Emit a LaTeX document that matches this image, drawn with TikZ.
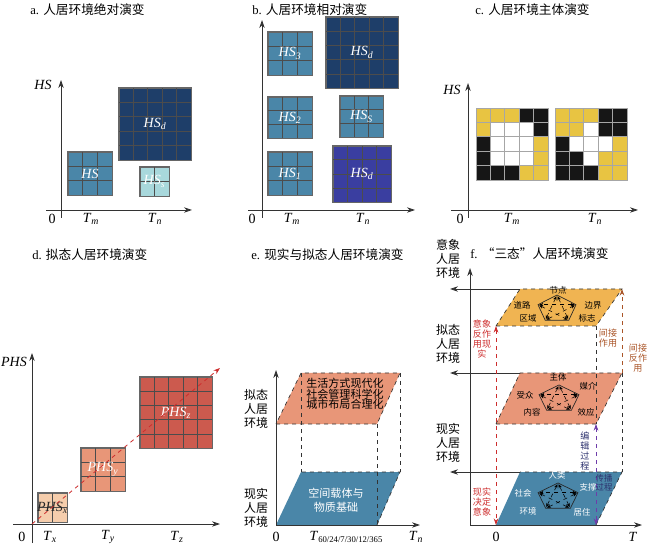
\documentclass[tikz,border=0pt]{standalone}
\usepackage{fontspec}
\setmainfont{Liberation Serif}
\newfontfamily\cjk{Noto Sans CJK SC}
\usetikzlibrary{arrows.meta,calc,positioning}

\definecolor{hsblue}{RGB}{74,134,168}
\definecolor{hsnavy}{RGB}{30,62,105}
\definecolor{hslight}{RGB}{168,216,220}
\definecolor{hsviolet}{RGB}{58,62,160}
\definecolor{phslow}{RGB}{245,205,172}
\definecolor{phsmid}{RGB}{232,150,120}
\definecolor{phshigh}{RGB}{204,90,78}
\definecolor{imgorange}{RGB}{240,180,82}
\definecolor{cellY}{RGB}{232,196,66}
\definecolor{cellK}{RGB}{22,22,22}
\definecolor{cellW}{RGB}{255,255,255}
\definecolor{redtxt}{RGB}{205,45,45}
\definecolor{browntxt}{RGB}{170,85,40}
\definecolor{violettxt}{RGB}{110,60,170}
\definecolor{navytxt}{RGB}{45,50,110}

% italic variable with subscript
\newcommand{\vr}[2]{\textit{#1}\textsubscript{\textit{#2}}}

\tikzset{
  axis/.style={draw=black!80, line width=0.6pt, -{Stealth[length=6pt,width=4pt]}},
  cellbox/.style={draw=gray!80!black, inner sep=0pt, line width=0.5pt},
  gridln/.style={draw=black!70, line width=0.5pt},
  boxtxt/.style={text=white, font=\fontsize{10.5}{12}\selectfont, inner sep=0pt},
  title/.style={font=\fontsize{9.5}{11}\selectfont, anchor=west, inner sep=0pt},
  ticktxt/.style={font=\fontsize{10.5}{12}\selectfont, inner sep=0pt},
  sidetxt/.style={font=\fontsize{9}{10.5}\selectfont\cjk, align=center, inner sep=0pt},
  smalltxt/.style={font=\fontsize{6.8}{7.6}\selectfont\cjk, align=center, inner sep=0pt},
  pentatxt/.style={font=\fontsize{6.3}{7}\selectfont\cjk, inner sep=0pt},
  layer/.style={draw=black!80, dashed, line width=0.5pt},
  guide/.style={draw=black!80, dashed, line width=0.5pt},
  flow/.style={dashed, line width=0.6pt},
  tip/.style={-{Stealth[length=5pt,width=3.5pt]}},
  startip/.style={dashed, line width=0.4pt, {Stealth[length=3pt,width=2.5pt]}-{Stealth[length=3pt,width=2.5pt]}, shorten <=1pt, shorten >=1pt},
}

% grid box: name, x1, y1, x2, y2, cells, fill, label
\newcommand{\hsbox}[8]{%
  \node[cellbox, fill=#7, minimum width={(#4-#2)*0.75pt}, minimum height={(#5-#3)*0.75pt}]
    (#1) at ({(#2+#4)/2},{(#3+#5)/2}) {};
  \pgfmathtruncatemacro{\lastk}{#6-1}
  \foreach \k in {1,...,\lastk} {
    \draw[gridln] ($(#1.north west)!\k/#6!(#1.north east)$) -- ($(#1.south west)!\k/#6!(#1.south east)$);
    \draw[gridln] ($(#1.north west)!\k/#6!(#1.south west)$) -- ($(#1.north east)!\k/#6!(#1.south east)$);
  }
  \draw[cellbox] (#1.north west) rectangle (#1.south east);
  \node[boxtxt] (#1-t) at (#1) {#8};
}

% pentagon: name, cx, cy, rx, ry
\newcommand{\penta}[5]{%
  \foreach \i/\a in {1/90,2/162,3/234,4/306,5/18}
    \coordinate (#1-\i) at ({#2+#4*cos(\a)},{#3-#5*sin(\a)});
  \draw[black!85, line width=0.5pt] (#1-1) -- (#1-2) -- (#1-3) -- (#1-4) -- (#1-5) -- cycle;
  \foreach \i/\j in {1/3,3/5,5/2,2/4,4/1}
    \draw[startip] (#1-\i) -- (#1-\j);
}

\begin{document}
\begin{tikzpicture}[x=0.75pt, y=-0.75pt]
\useasboundingbox (0,0) rectangle (650,545);

% a. absolute

\node[title] (ta) at (30,10) {a. \cjk{人居环境绝对演变}};
\coordinate (a-yb) at (61,218);
\coordinate (a-yt) at (61,80);
\coordinate (a-xl) at (46,210);
\coordinate (a-xr) at (192,210);
\draw[axis] (a-yb) -- (a-yt);
\draw[axis] (a-xl) -- (a-xr);
\node[ticktxt] (a-hs) at (43,85) {\textit{HS}};
\node[ticktxt] (a-0) at (52,219) {0};
\node[ticktxt] (a-tm) at (91,219) {\vr{T}{m}};
\node[ticktxt] (a-tn) at (155,219) {\vr{T}{n}};
\hsbox{hsa}{68}{152}{112}{195}{3}{hsblue}{\textit{HS}}
\hsbox{hsad}{119}{88}{191}{160}{5}{hsnavy}{\vr{HS}{d}}
\hsbox{hsas}{140}{167}{169}{196}{2}{hslight}{\vr{HS}{s}}

% b. relative

\node[title] (tb) at (252,10) {b. \cjk{人居环境相对演变}};
\coordinate (b-yb) at (262,218);
\coordinate (b-yt) at (262,20);
\coordinate (b-xl) at (248,210);
\coordinate (b-xr) at (415,210);
\draw[axis] (b-yb) -- (b-yt);
\draw[axis] (b-xl) -- (b-xr);
\node[ticktxt] (b-0) at (252,219) {0};
\node[ticktxt] (b-tm) at (292,219) {\vr{T}{m}};
\node[ticktxt] (b-tn) at (363,219) {\vr{T}{n}};
\hsbox{hsb3}{268}{32}{312}{75}{3}{hsblue}{\vr{HS}{3}}
\hsbox{hsbd}{326}{17}{398}{88}{5}{hsnavy}{\vr{HS}{d}}
\hsbox{hsb2}{268}{97}{312}{138}{3}{hsblue}{\vr{HS}{2}}
\hsbox{hsbs}{340}{96}{383}{137}{3}{hsblue}{\vr{HS}{S}}
\hsbox{hsb1}{268}{152}{312}{195}{3}{hsblue}{\vr{HS}{1}}
\hsbox{hsbv}{333}{146}{391}{202}{4}{hsviolet}{\vr{HS}{d}}

% c. subject

\node[title] (tc) at (475,10) {c. \cjk{人居环境主体演变}};
\coordinate (c-yb) at (468,218);
\coordinate (c-yt) at (468,83);
\coordinate (c-xl) at (451,210);
\coordinate (c-xr) at (638,210);
\draw[axis] (c-yb) -- (c-yt);
\draw[axis] (c-xl) -- (c-xr);
\node[ticktxt] (c-hs) at (452,90) {\textit{HS}};
\node[ticktxt] (c-0) at (460,219) {0};
\node[ticktxt] (c-tm) at (512,219) {\vr{T}{m}};
\node[ticktxt] (c-tn) at (595,219) {\vr{T}{n}};
\foreach \row [count=\r from 0] in {{Y,Y,Y,K,K},{Y,W,W,W,K},{K,W,W,W,Y},{K,W,W,W,Y},{K,K,K,Y,Y}}
  \foreach \c [count=\q from 0] in \row
    \filldraw[fill=cell\c, draw=gray!70, line width=0.5pt] ({476+14.4*\q},{108+14.4*\r}) rectangle +(14.4,14.4);
\foreach \row [count=\r from 0] in {{Y,Y,Y,K,K},{Y,Y,W,K,K},{K,W,W,W,Y},{K,K,W,Y,Y},{K,K,K,Y,Y}}
  \foreach \c [count=\q from 0] in \row
    \filldraw[fill=cell\c, draw=gray!70, line width=0.5pt] ({555+14.4*\q},{108+14.4*\r}) rectangle +(14.4,14.4);

% d. mimetic

\node[title] (td) at (32,255) {d. \cjk{拟态人居环境演变}};
\coordinate (d-o) at (32,524);
\coordinate (d-yb) at (32,543);
\coordinate (d-yt) at (32,353);
\coordinate (d-xl) at (13,524);
\coordinate (d-xr) at (220,524);
\draw[axis] (d-yb) -- (d-yt);
\draw[axis] (d-xl) -- (d-xr);
\node[ticktxt] (d-phs) at (14,362) {\textit{PHS}};
\node[ticktxt] (d-0) at (22,537) {0};
\node[ticktxt] (d-tx) at (50,537) {\vr{T}{x}};
\node[ticktxt] (d-ty) at (108,537) {\vr{T}{y}};
\node[ticktxt] (d-tz) at (177,537) {\vr{T}{z}};
\hsbox{phsa}{38}{493}{67}{522}{2}{phslow}{\color{black!85}\vr{PHS}{x}}
\hsbox{phsb}{81}{448}{125}{491}{3}{phsmid}{\vr{PHS}{y}}
\hsbox{phsc}{140}{377}{212}{448}{5}{phshigh}{\vr{PHS}{z}}
\coordinate (d-end) at (220,368);
\draw[redtxt, flow, tip] (d-o) -- (d-end);

% e. real and mimetic

\node[title] (te) at (251,255) {e. \cjk{现实与拟态人居环境演变}};
\coordinate (e-o) at (276,525);
\coordinate (e-yt) at (276,370);
\coordinate (e-xr) at (420,525);
\coordinate (e-p1) at (276,424);
\coordinate (e-p2) at (377,424);
\coordinate (e-p3) at (400,373);
\coordinate (e-p4) at (301,373);
\coordinate (e-r2) at (377,525);
\coordinate (e-r3) at (400,472);
\coordinate (e-r4) at (301,472);
\fill[phsmid] (e-p1) -- (e-p2) -- (e-p3) -- (e-p4) -- cycle;
\fill[hsblue] (e-o) -- (e-r2) -- (e-r3) -- (e-r4) -- cycle;
\draw[layer] (e-p1) -- (e-p2) -- (e-p3) -- (e-p4) -- cycle;
\draw[layer] (e-r2) -- (e-r3) -- (e-r4);
\draw[guide] (e-p4) -- (e-r4);
\draw[guide] (e-p3) -- (e-r3);
\draw[guide] (e-p2) -- (e-r2);
\draw[axis] (e-o) -- (e-yt);
\draw[axis] (e-o) -- (e-xr);
\node[sidetxt] (e-mim) at (256,409) {拟态\\人居\\环境};
\node[sidetxt] (e-real) at (256,508) {现实\\人居\\环境};
\node[font=\fontsize{8.3}{7.9}\selectfont\cjk, align=center, inner sep=0pt] (e-mtxt) at (345,394)
  {生活方式现代化\\社会管理科学化\\城市布局合理化};
\node[font=\fontsize{8.3}{10.5}\selectfont\cjk, align=center, inner sep=0pt, text=white] (e-rtxt) at (336,500)
  {空间载体与\\物质基础};
\node[ticktxt] (e-0) at (276,537) {0};
\node[ticktxt] (e-t) at (346,537) {\textit{T}{\fontsize{6.5}{7}\selectfont\raisebox{-2pt}{60/24/7/30/12/365}}};
\node[ticktxt] (e-tn) at (416,537) {\vr{T}{n}};

% f. three states

\node[title] (tf) at (470,254) {f. \cjk{“三态”人居环境演变}};
\coordinate (f-o) at (470,525);
\coordinate (f-yt) at (470,268);
\coordinate (f-xr) at (642,525);
% layers
\coordinate (f-i1) at (496,326);
\coordinate (f-i2) at (596,326);
\coordinate (f-i3) at (622,289);
\coordinate (f-i4) at (520,289);
\coordinate (f-m1) at (496,424);
\coordinate (f-m2) at (596,424);
\coordinate (f-m3) at (622,373);
\coordinate (f-m4) at (520,373);
\coordinate (f-r1) at (496,525);
\coordinate (f-r2) at (596,525);
\coordinate (f-r3) at (622,472);
\coordinate (f-r4) at (520,472);
\coordinate (f-il) at (450,289);
\coordinate (f-ml) at (450,373);
\coordinate (f-rl) at (450,472);
\fill[imgorange] (f-i1) -- (f-i2) -- (f-i3) -- (f-i4) -- cycle;
\fill[phsmid] (f-m1) -- (f-m2) -- (f-m3) -- (f-m4) -- cycle;
\fill[hsblue] (f-r1) -- (f-r2) -- (f-r3) -- (f-r4) -- cycle;
\draw[layer] (f-i1) -- (f-i2) -- (f-i3) -- (f-i4) -- cycle;
\draw[layer] (f-m1) -- (f-m2) -- (f-m3) -- (f-m4) -- cycle;
\draw[layer] (f-r2) -- (f-r3) -- (f-r4);
\draw[guide] (f-i2) -- (f-m2);
\draw[guide] (f-m3) -- (f-r3);
\draw[axis] (f-i4) -- (f-il);
\draw[axis] (f-m4) -- (f-ml);
\draw[axis] (f-r4) -- (f-rl);
\draw[axis] (f-o) -- (f-yt);
\draw[axis] (f-o) -- (f-xr);
% flows
\draw[redtxt, flow, {Stealth[length=5pt,width=3.5pt]}-{Stealth[length=5pt,width=3.5pt]}] (f-i1) -- (f-r1);
\draw[violettxt, flow, {Stealth[length=5pt,width=3.5pt]}-{Stealth[length=5pt,width=3.5pt]}] (f-m2) -- (f-r2);
\draw[browntxt, flow, tip] (f-m3) -- (f-i3);
% pentagons
\penta{pi}{557}{309}{20}{14}
\penta{pm}{559}{399}{21}{14}
\penta{pr}{558}{497}{21}{14}
\node[pentatxt] (pi-a) at (558,290) {节点};
\node[pentatxt] (pi-b) at (522,305) {道路};
\node[pentatxt] (pi-c) at (593,305) {边界};
\node[pentatxt] (pi-d) at (528,318) {区域};
\node[pentatxt] (pi-e) at (587,318) {标志};
\node[pentatxt] (pm-a) at (558,377) {主体};
\node[pentatxt] (pm-b) at (588,386) {媒介};
\node[pentatxt] (pm-c) at (525,395) {受众};
\node[pentatxt] (pm-d) at (532,412) {内容};
\node[pentatxt] (pm-e) at (586,412) {效应};
\node[pentatxt, text=white] (pr-a) at (557,475) {人类};
\node[pentatxt, text=white] (pr-b) at (588,487) {支撑};
\node[pentatxt, text=white] (pr-c) at (523,493) {社会};
\node[pentatxt, text=white] (pr-d) at (528,511) {环境};
\node[pentatxt, text=white] (pr-e) at (582,512) {居住};
% labels
\node[sidetxt] (f-img) at (448,259) {意象\\人居\\环境};
\node[sidetxt] (f-mim) at (448,344) {拟态\\人居\\环境};
\node[sidetxt] (f-real) at (448,443) {现实\\人居\\环境};
\node[smalltxt, text=redtxt] (f-up) at (482,339) {意象\\反作\\用现\\实};
\node[smalltxt, text=redtxt] (f-down) at (482,502) {现实\\决定\\意象};
\node[smalltxt, text=browntxt] (f-ind) at (608,338) {间接\\作用};
\node[smalltxt, text=browntxt] (f-indr) at (638,358) {间接\\反作\\用};
\node[smalltxt, text=navytxt] (f-edit) at (585,451) {编\\辑\\过\\程};
\node[font=\fontsize{6.3}{6.8}\selectfont\cjk, align=center, inner sep=0pt, text=navytxt] (f-spread) at (604,483) {传播\\过程};
\node[ticktxt] (f-0) at (496,537) {0};
\node[ticktxt] (f-t) at (633,537) {\textit{T}};

\end{tikzpicture}
\end{document}
